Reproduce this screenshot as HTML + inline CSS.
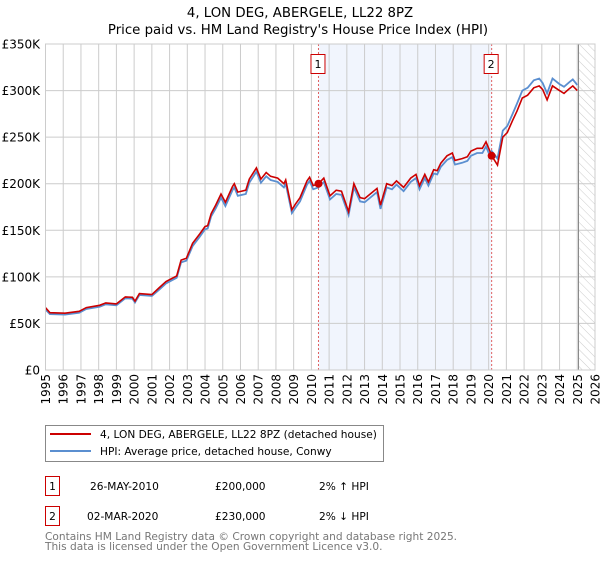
<!DOCTYPE html>
<html><head><meta charset="utf-8"><style>
body{margin:0;background:#fff;font-family:"DejaVu Sans","Liberation Sans",sans-serif;}
svg text{font-family:"DejaVu Sans","Liberation Sans",sans-serif;}
</style></head><body>
<svg id="c" width="600" height="560" viewBox="0 0 600 560" xmlns="http://www.w3.org/2000/svg">
<defs><pattern id="hatch" width="6" height="6" patternUnits="userSpaceOnUse" patternTransform="rotate(-45)"><line x1="0" y1="0" x2="0" y2="6" stroke="#ccc" stroke-width="1"/></pattern></defs>
<text x="300" y="17" text-anchor="middle" font-size="13.3">4, LON DEG, ABERGELE, LL22 8PZ</text>
<text x="298" y="34" text-anchor="middle" font-size="13.3">Price paid vs. HM Land Registry's House Price Index (HPI)</text>
<g id="plot"></g>
<g>
<rect x="45.5" y="425.5" width="338" height="36" fill="#fff" stroke="#888"/>
<line x1="50" y1="434" x2="91" y2="434" stroke="#cc0000" stroke-width="2"/>
<text x="100" y="438" font-size="10.6">4, LON DEG, ABERGELE, LL22 8PZ (detached house)</text>
<line x1="50" y1="451" x2="91" y2="451" stroke="#5b8fd0" stroke-width="2"/>
<text x="100" y="455" font-size="10.6">HPI: Average price, detached house, Conwy</text>
</g>
<g font-size="10.6">
<rect x="45.5" y="476.5" width="14" height="19" fill="#fff" stroke="#cc0000"/><text x="52.5" y="490" text-anchor="middle">1</text>
<text x="90" y="490">26-MAY-2010</text><text x="215" y="490">£200,000</text><text x="319" y="490">2% ↑ HPI</text>
<rect x="45.5" y="506.5" width="14" height="19" fill="#fff" stroke="#cc0000"/><text x="52.5" y="520" text-anchor="middle">2</text>
<text x="87" y="520">02-MAR-2020</text><text x="215" y="520">£230,000</text><text x="319" y="520">2% ↓ HPI</text>
</g>
<text x="45" y="540" font-size="10.6" fill="#777">Contains HM Land Registry data © Crown copyright and database right 2025.</text>
<text x="45" y="550" font-size="10.6" fill="#777">This data is licensed under the Open Government Licence v3.0.</text>
</svg>
<script>
const yTicks=[0,50,100,150,200,250,300,350];
const yTickLabels=["£0","£50K","£100K","£150K","£200K","£250K","£300K","£350K"];
const xYears=[1995,1996,1997,1998,1999,2000,2001,2002,2003,2004,2005,2006,2007,2008,2009,2010,2011,2012,2013,2014,2015,2016,2017,2018,2019,2020,2021,2022,2023,2024,2025,2026];
const redT=[1995.0,1995.25,1996.1,1996.9,1997.3,1998.05,1998.4,1999.0,1999.5,1999.9,2000.05,2000.3,2001.0,2001.4,2001.8,2002.4,2002.65,2002.95,2003.3,2003.7,2004.0,2004.15,2004.35,2004.6,2004.9,2005.15,2005.55,2005.65,2005.85,2006.3,2006.5,2006.9,2007.15,2007.45,2007.7,2008.1,2008.45,2008.55,2008.9,2009.1,2009.36,2009.75,2009.9,2010.1,2010.4,2010.7,2011.05,2011.4,2011.7,2012.1,2012.4,2012.75,2013.0,2013.7,2013.9,2014.25,2014.55,2014.8,2015.2,2015.6,2015.9,2016.1,2016.4,2016.6,2016.9,2017.1,2017.3,2017.65,2017.95,2018.1,2018.5,2018.8,2019.0,2019.35,2019.65,2019.85,2020.05,2020.17,2020.5,2020.8,2021.05,2021.35,2021.6,2021.9,2022.2,2022.55,2022.85,2023.05,2023.3,2023.6,2024.0,2024.25,2024.55,2024.75,2025.0];
const redV=[67,61.5,61,63,67,69.5,72,71,78.5,78,74,82,81,88,95,101,118,120,136,146,154,155,168,177,189,180,197,200,191,193,205,217,205,212,208,206,200,204,172,178,185,203,207,198,200,206,187,193,192,170,200,185,184,195,177,200,198,203,196,206,210,198,210,202,215,214,222,230,233,225,227,229,235,238,238,245,236,230,220,250,255,268,278,292,295,303,305,301,290,305,300,297,302,305,300];
const hpiV=[65,60,59.5,61.5,65.5,68,70.5,69.5,77,76.5,72.5,80.5,79.5,86,93,99,115.5,117.5,133,143,151,152,165,173.5,185,176,193,196,187,189,201,213,201,208,204,202,196,200,168.5,174,181,199,203,194,196,202,183,189,188,166.5,196,181,180,191,173,196,194,199,192,202,206,194,206,198,211,210,218,225.5,228.5,220.5,222.5,224.5,230,233,233,240,231,235,227,257,262,275,286,300,303,311,313,308,297,313,307,304,309,312,306];
const NS="http://www.w3.org/2000/svg";
const L=45.5,R=595,T=44,B=370;
const X=y=>L+(y-1995)*(R-L)/31;
const Y=v=>B-v*(B-T)/350;
const g=document.getElementById('plot');
function mk(tag,attrs,parent){const e=document.createElementNS(NS,tag);for(const k in attrs)e.setAttribute(k,attrs[k]);(parent||g).appendChild(e);return e;}
let e;
e=mk('rect',{x:X(2010.4),y:T,width:X(2020.17)-X(2010.4),height:B-T,fill:'#eef3fd',opacity:0.8});


e=mk('rect',{x:X(2025.07),y:T,width:R-X(2025.07),height:B-T,fill:'url(#hatch)'});


yTicks.forEach((v,i)=>{
 e=mk('line',{x1:L,x2:R,y1:Y(v),y2:Y(v),stroke:'#ccc','stroke-width':1});
 
 
 e=mk('text',{x:40,y:Y(v)+4.5,'text-anchor':'end','font-size':12});
 e.textContent=yTickLabels[i];
 
 
});
xYears.forEach(yr=>{
 e=mk('line',{x1:X(yr),x2:X(yr),y1:T,y2:B,stroke:'#ccc','stroke-width':1});
 
 
 e=mk('text',{x:0,y:0,'text-anchor':'end','font-size':12,transform:`translate(${X(yr)+4.5},374) rotate(-90)`});
 e.textContent=yr;
 
 
});
e=mk('line',{x1:X(2025.07),x2:X(2025.07),y1:T,y2:B,stroke:'#888','stroke-width':1});


[[2010.4,'1'],[2020.17,'2']].forEach(([t,l])=>{
 e=mk('line',{x1:X(t),x2:X(t),y1:T,y2:B,stroke:'#e06060','stroke-width':1,'stroke-dasharray':'2,2'});
 
 
 e=mk('rect',{x:X(t)-7.5,y:54.5,width:14,height:19,fill:'#fff',stroke:'#cc0000'});
 
 
 e=mk('text',{x:X(t)-0.5,y:68,'text-anchor':'middle','font-size':11});
 e.textContent=l;
 
 
});
const path=vals=>vals.map((v,i)=>(i?'L':'M')+X(redT[i]).toFixed(1)+','+Y(v).toFixed(1)).join('');
e=mk('path',{d:path(hpiV),fill:'none',stroke:'#5b8fd0','stroke-width':1.8});


e=mk('path',{d:path(redV),fill:'none',stroke:'#cc0000','stroke-width':1.6});


[[2010.4,200],[2020.17,230]].forEach(([t,v])=>{
 e=mk('circle',{cx:X(t),cy:Y(v),r:4,fill:'#cc0000'});
 
 
});
e=mk('rect',{x:L,y:T,width:R-L,height:B-T,fill:'none',stroke:'#ccc'});


</script>
</body></html>
